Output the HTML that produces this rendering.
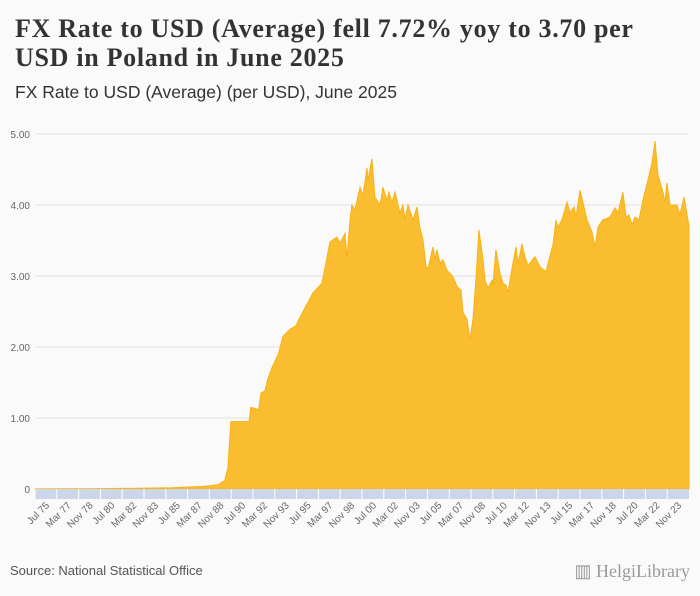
<!DOCTYPE html>
<html><head><meta charset="utf-8"><style>
body{margin:0;background:#fafafa;font-family:"Liberation Sans",sans-serif;}
#wrap{position:relative;width:700px;height:596px;background:#fafafa;overflow:hidden}
h1{position:absolute;left:15px;top:14px;margin:0;font:bold 26px/29px "Liberation Serif",serif;letter-spacing:0.7px;color:#333;white-space:nowrap}
h2{position:absolute;left:15px;top:82px;margin:0;font:17.5px "Liberation Sans",sans-serif;color:#333}
.src{position:absolute;left:10px;top:563px;font-size:13px;color:#555}
.logo{position:absolute;right:10px;top:561px;font:18px "Liberation Serif",serif;color:#999}
</style></head><body>
<div id="wrap">
<h1>FX Rate to USD (Average) fell 7.72% yoy to 3.70 per<br>USD in Poland in June 2025</h1>
<h2>FX Rate to USD (Average) (per USD), June 2025</h2>
<svg id="chart" width="700" height="596" style="position:absolute;left:0;top:0"></svg>
<div class="src">Source: National Statistical Office</div>
<div class="logo">▥ HelgiLibrary</div>
</div>
<script>
const years=[1975.5,1978,1980,1982,1984,1986,1987.5,1988.5,1989.5,1990.0,1990.25,1990.48,1991.86,1992.0,1992.6,1992.78,1993.08,1993.3,1993.6,1994.1,1994.46,1995.0,1995.45,1995.76,1996.75,1997.44,1998.05,1998.59,1998.82,1999.2,1999.35,1999.58,1999.73,1999.96,2000.35,2000.58,2000.88,2000.96,2001.26,2001.49,2001.88,2002.1,2002.41,2002.56,2002.79,2003.02,2003.4,2003.63,2003.79,2004.02,2004.4,2004.7,2004.93,2005.16,2005.39,2005.55,2005.93,2006.08,2006.23,2006.46,2006.69,2007.0,2007.46,2007.76,2008.07,2008.22,2008.53,2008.76,2008.99,2009.21,2009.44,2009.75,2009.9,2010.13,2010.44,2010.51,2010.74,2011.05,2011.28,2011.51,2011.66,2012.04,2012.27,2012.43,2012.73,2012.96,2013.19,2013.72,2014.11,2014.57,2014.8,2015.1,2015.33,2015.48,2015.79,2016.17,2016.4,2016.71,2016.86,2017.17,2017.39,2017.7,2018.08,2018.31,2018.54,2018.92,2019.46,2019.84,2020.07,2020.45,2020.68,2020.91,2021.14,2021.37,2021.68,2021.98,2022.36,2022.67,2022.9,2023.13,2023.51,2023.66,2023.82,2024.05,2024.58,2024.81,2025.12,2025.5];
const values=[0.002,0.003,0.003,0.008,0.012,0.018,0.03,0.04,0.06,0.12,0.3,0.95,0.95,1.15,1.12,1.35,1.38,1.55,1.7,1.9,2.15,2.25,2.3,2.42,2.76,2.9,3.48,3.55,3.46,3.6,3.25,3.79,4.0,3.93,4.25,4.14,4.52,4.35,4.65,4.11,4.0,4.25,4.07,4.18,4.04,4.18,3.89,4.0,3.79,4.0,3.79,3.97,3.68,3.51,3.13,3.11,3.41,3.23,3.37,3.18,3.23,3.08,2.99,2.85,2.8,2.49,2.39,2.1,2.39,2.94,3.65,3.23,2.94,2.83,2.94,2.87,3.37,3.04,2.9,2.87,2.77,3.18,3.41,3.18,3.45,3.27,3.15,3.27,3.13,3.06,3.23,3.44,3.79,3.69,3.79,4.04,3.89,3.97,3.83,4.21,4.04,3.79,3.62,3.41,3.69,3.79,3.83,3.96,3.89,4.18,3.83,3.86,3.72,3.83,3.79,4.07,4.35,4.59,4.9,4.42,4.18,4.04,4.31,4.0,4.0,3.86,4.11,3.70];
const yTicks=[0,1,2,3,4,5];
const yTickLabels=["0","1.00","2.00","3.00","4.00","5.00"];
const xTickLabels=["Jul 75","Mar 77","Nov 78","Jul 80","Mar 82","Nov 83","Jul 85","Mar 87","Nov 88","Jul 90","Mar 92","Nov 93","Jul 95","Mar 97","Nov 98","Jul 00","Mar 02","Nov 03","Jul 05","Mar 07","Nov 08","Jul 10","Mar 12","Nov 13","Jul 15","Mar 17","Nov 18","Jul 20","Mar 22","Nov 23"];

const NS="http://www.w3.org/2000/svg";
const svg=document.getElementById('chart');
const X0=35,X1=689,Y0=489,YPU=71,T0=1975.5,T1=2025.5;
const xs=t=>X0+(t-T0)/(T1-T0)*(X1-X0);
const ys=v=>Y0-v*YPU;
function mk(tag,attrs){const e=document.createElementNS(NS,tag);for(const k in attrs)e.setAttribute(k,attrs[k]);svg.appendChild(e);return e;}
yTicks.forEach((v,i)=>{
  if(v>0){const g=mk('line',{x1:X0,x2:X1,y1:ys(v),y2:ys(v),stroke:'#e3e3e3','stroke-width':1});
  
  }
  const t=mk('text',{x:30,y:ys(v)+4,'text-anchor':'end','font-size':10,fill:'#666','font-family':'Liberation Sans, sans-serif'});
  t.textContent=yTickLabels[i];
  
  
});
let d='M'+xs(years[0])+','+Y0;
years.forEach((t,i)=>{d+=' L'+xs(t).toFixed(1)+','+ys(values[i]).toFixed(1);});
d+=' L'+xs(years[years.length-1])+','+Y0+' Z';
const area=mk('path',{d:d,fill:'#fbbd30',stroke:'#f7b214','stroke-width':1});


const band=mk('rect',{x:X0,y:Y0,width:X1-X0,height:10,fill:'#ccd6eb'});


const monthsPerLabel=20;
xTickLabels.forEach((lab,i)=>{
  const t=T0+i*monthsPerLabel/12;
  const x=xs(t);
  const l=mk('line',{x1:x,x2:x,y1:Y0,y2:Y0+10,stroke:'#fff','stroke-width':1});
  
  
  const mid=xs(t+monthsPerLabel/24);
  const tx=mk('text',{x:mid+4,y:Y0+17,'text-anchor':'end','font-size':10,fill:'#666','font-family':'Liberation Sans, sans-serif',transform:`rotate(-45 ${mid+4} ${Y0+17})`});
  tx.textContent=lab;
  
  
});
</script>
</body></html>
